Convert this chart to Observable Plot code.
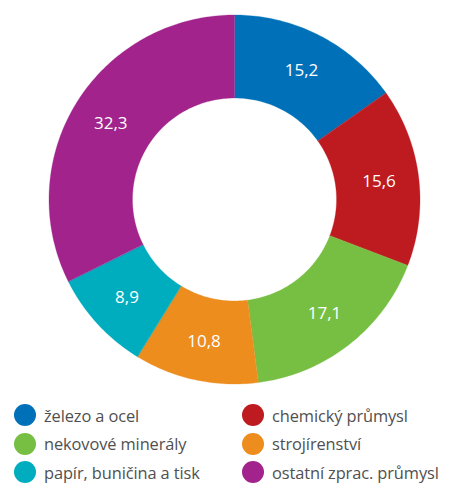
<!DOCTYPE html>
<html>
<head>
<meta charset="utf-8">
<script src="https://cdn.jsdelivr.net/npm/d3@7"></script>
<script src="https://cdn.jsdelivr.net/npm/@observablehq/plot@0.6"></script>
<style>
  html, body { margin: 0; padding: 0; background: #fff; }
  body { width: 458px; height: 489px; overflow: hidden; font-family: "Open Sans", sans-serif; }
  #legend { display: grid; grid-template-columns: 229px 229px; row-gap: 0; margin-top: 1px; }
  .item { display: flex; align-items: center; height: 28.5px; font-size: 16.4px; color: #505050; white-space: nowrap; letter-spacing: -0.1px; }
  .item .sw { width: 22px; height: 22px; border-radius: 50%; margin-right: 8px; flex: none; }
  .c1 { padding-left: 14px; }
  .c2 { padding-left: 13px; }
</style>
</head>
<body>
<div id="chart"></div>
<div id="legend"></div>
<script>
const categories = ["železo a ocel", "chemický průmysl", "nekovové minerály", "strojírenství", "papír, buničina a tisk", "ostatní zprac. průmysl"];
const values = [15.2, 15.6, 17.1, 10.8, 8.9, 32.3];
const colors = ["#0071b9", "#be1b21", "#77bf43", "#ec8d1e", "#00adbf", "#a1238b"];
const legendOrder = [0, 1, 2, 3, 4, 5];

const innerR = 0.55, outerR = 1, labelR = 0.785;
const data = categories.map((c, i) => ({category: c, value: values[i]}));
const arcs = d3.pie().sort(null).value(d => d.value)(data);

const pts = [];
for (const a of arcs) {
  const n = Math.max(8, Math.ceil((a.endAngle - a.startAngle) * 60));
  for (let k = 0; k <= n; k++) {
    const t = a.startAngle + (a.endAngle - a.startAngle) * k / n;
    pts.push({category: a.data.category, x: Math.sin(t) * outerR, y: Math.cos(t) * outerR});
  }
  for (let k = n; k >= 0; k--) {
    const t = a.startAngle + (a.endAngle - a.startAngle) * k / n;
    pts.push({category: a.data.category, x: Math.sin(t) * innerR, y: Math.cos(t) * innerR});
  }
}
const labels = arcs.map(a => {
  const m = (a.startAngle + a.endAngle) / 2;
  return {x: Math.sin(m) * labelR, y: Math.cos(m) * labelR, text: d3.format(".1f")(a.data.value).replace(".", ",")};
});

const chart = Plot.plot({
  width: 458,
  height: 400,
  marginLeft: 48.5,
  marginRight: 38.5,
  marginTop: 14.5,
  marginBottom: 16.5,
  x: {domain: [-1, 1], axis: null},
  y: {domain: [-1, 1], axis: null},
  color: {domain: categories, range: colors},
  style: {fontFamily: "Open Sans, sans-serif", background: "white"},
  marks: [
    Plot.line(pts, {x: "x", y: "y", z: "category", fill: "category", stroke: "category", strokeWidth: 0.3, curve: "linear-closed"}),
    Plot.text(labels, {x: "x", y: "y", text: "text", fill: "white", fontSize: 17})
  ]
});
document.getElementById("chart").appendChild(chart);

const legend = document.getElementById("legend");
for (const i of legendOrder) {
  const div = document.createElement("div");
  div.className = "item " + (i % 2 === 0 ? "c1" : "c2");
  const sw = document.createElement("span");
  sw.className = "sw";
  sw.style.background = colors[i];
  const tx = document.createElement("span");
  tx.textContent = categories[i];
  div.appendChild(sw);
  div.appendChild(tx);
  legend.appendChild(div);
}
</script>
</body>
</html>
